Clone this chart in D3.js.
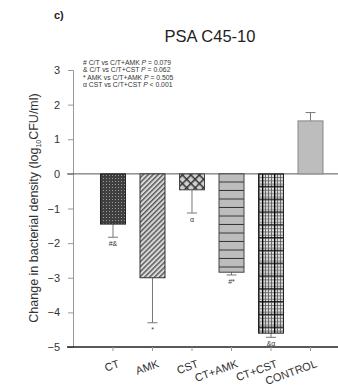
<!DOCTYPE html>
<html>
<head>
<meta charset="utf-8">
<script src="https://cdn.jsdelivr.net/npm/d3@7"></script>
<style>
  body { margin: 0; background: #fff; }
  svg text { font-family: "Liberation Sans", Arial, sans-serif; }
</style>
</head>
<body>
<div class="chart"></div>
<script>
// data
var groups = ["CT", "AMK", "CST", "CT+AMK", "CT+CST", "CONTROL"];
var means = [-1.45, -3.0, -0.46, -2.84, -4.6, 1.53];
var errs = [-1.83, -4.3, -1.13, -2.92, -4.72, 1.77];
var marks = ["#&", "*", "\u03b1", "#*", "&\u03b1", ""];
var yTicks = [3, 2, 1, 0, -1, -2, -3, -4, -5];
var notes = [
  ["# C/T vs C/T+AMK ", "= 0.079"],
  ["& C/T vs C/T+CST ", "= 0.062"],
  ["* AMK vs C/T+AMK ", "= 0.505"],
  ["\u03b1 CST vs C/T+CST ", "< 0.001"]
];
var fills = ["url(#pCT)", "url(#pAMK)", "url(#pCST)", "url(#pCTAMK)", "url(#pCTCST)", "#bdbdbd"];
var strokes = ["#222", "#333", "#444", "#444", "#222", "#888"];

var Width = 338, Height = 391;
var svg = d3.select(".chart").append("svg")
  .attr("width", Width)
  .attr("height", Height);

// patterns for the bars
var defs = svg.append("defs");

var p1 = defs.append("pattern").attr("id", "pCT").attr("patternUnits", "userSpaceOnUse")
  .attr("width", 3).attr("height", 3);
p1.append("rect").attr("width", 3).attr("height", 3).attr("fill", "#3f3f3f");
p1.append("rect").attr("x", 1).attr("y", 1).attr("width", 1).attr("height", 1).attr("fill", "#9a9a9a");

var p2 = defs.append("pattern").attr("id", "pAMK").attr("patternUnits", "userSpaceOnUse")
  .attr("width", 3.5).attr("height", 3.5).attr("patternTransform", "rotate(45)");
p2.append("rect").attr("width", 3.5).attr("height", 3.5).attr("fill", "#d8d8d8");
p2.append("rect").attr("width", 1.4).attr("height", 3.5).attr("fill", "#555");

var p3 = defs.append("pattern").attr("id", "pCST").attr("patternUnits", "userSpaceOnUse")
  .attr("width", 6).attr("height", 6).attr("patternTransform", "rotate(45)");
p3.append("rect").attr("width", 6).attr("height", 6).attr("fill", "#cfcfcf");
p3.append("rect").attr("width", 1.5).attr("height", 6).attr("fill", "#333");
p3.append("rect").attr("width", 6).attr("height", 1.5).attr("fill", "#333");

var p4 = defs.append("pattern").attr("id", "pCTAMK").attr("patternUnits", "userSpaceOnUse")
  .attr("width", 10).attr("height", 8.5).attr("y", 174);
p4.append("rect").attr("width", 10).attr("height", 8.5).attr("fill", "#bdbdbd");
p4.append("rect").attr("y", 7.5).attr("width", 10).attr("height", 1).attr("fill", "#333");

var p5 = defs.append("pattern").attr("id", "pCTCST").attr("patternUnits", "userSpaceOnUse")
  .attr("width", 12).attr("height", 12.8).attr("x", 259).attr("y", 174);
p5.append("rect").attr("width", 12).attr("height", 12.8).attr("fill", "#dedede");
[0, 3, 6, 9].forEach(function(v) {
  p5.append("rect").attr("x", v).attr("width", 0.8).attr("height", 12.8).attr("fill", "#555");
});
[0, 3.2, 6.4, 9.6].forEach(function(v) {
  p5.append("rect").attr("y", v).attr("width", 12).attr("height", 0.8).attr("fill", "#555");
});
p5.append("rect").attr("x", 3).attr("width", 1.3).attr("height", 12.8).attr("fill", "#000");
p5.append("rect").attr("y", 12).attr("width", 12).attr("height", 1.3).attr("fill", "#000");

// scales
var y = d3.scaleLinear().domain([-5, 3]).range([347, 70]);
var x = d3.scaleBand().domain(groups)
  .range([73, 350.5])
  .paddingInner(0.367)
  .paddingOuter(0.696);

// y axis
var yAxis = svg.append("g")
  .attr("transform", "translate(73,0)")
  .call(d3.axisLeft(y).tickValues(yTicks).tickSize(5).tickPadding(8));
yAxis.select(".domain").attr("stroke", "#999");
yAxis.selectAll(".tick line").attr("stroke", "#999");
yAxis.selectAll(".tick text").attr("fill", "#333").style("font-size", "11px");

// zero line and bottom line
svg.append("line")
  .attr("x1", 67).attr("x2", Width)
  .attr("y1", y(0)).attr("y2", y(0))
  .attr("stroke", "#555").attr("stroke-width", 1);
svg.append("line")
  .attr("x1", 67).attr("x2", Width)
  .attr("y1", y(-5)).attr("y2", y(-5))
  .attr("stroke", "#222").attr("stroke-width", 1.5);

// x ticks and labels
var xAxis = svg.append("g")
  .attr("transform", "translate(0," + y(-5) + ")")
  .call(d3.axisBottom(x).tickSize(4).tickPadding(7));
xAxis.select(".domain").remove();
xAxis.selectAll(".tick line").attr("stroke", "#999");
xAxis.selectAll(".tick text")
  .attr("fill", "#333")
  .style("font-size", "11px")
  .attr("text-anchor", "end")
  .attr("dy", "0.9em")
  .attr("transform", "rotate(-20)");

// error bars
var bw = x.bandwidth();
groups.forEach(function(g, i) {
  var cx = x(g) + bw / 2;
  svg.append("line")
    .attr("x1", cx).attr("x2", cx)
    .attr("y1", y(means[i])).attr("y2", y(errs[i]))
    .attr("stroke", "#777").attr("stroke-width", 1);
  svg.append("line")
    .attr("x1", cx - 5).attr("x2", cx + 5)
    .attr("y1", y(errs[i])).attr("y2", y(errs[i]))
    .attr("stroke", "#777").attr("stroke-width", 1);
});

// bars
svg.selectAll(".bar")
  .data(groups)
  .enter().append("rect")
  .attr("class", "bar")
  .attr("x", function(d) { return x(d); })
  .attr("width", bw)
  .attr("y", function(d, i) { return y(Math.max(0, means[i])); })
  .attr("height", function(d, i) { return Math.abs(y(means[i]) - y(0)); })
  .attr("fill", function(d, i) { return fills[i]; })
  .attr("stroke", function(d, i) { return strokes[i]; })
  .attr("stroke-width", 1);

// significance marks below the error bars
svg.selectAll(".mark")
  .data(groups)
  .enter().append("text")
  .attr("class", "mark")
  .attr("x", function(d) { return x(d) + bw / 2; })
  .attr("y", function(d, i) { return y(errs[i]) + 9; })
  .attr("text-anchor", "middle")
  .style("font-size", "7px")
  .attr("fill", "#333")
  .text(function(d, i) { return marks[i]; });

// p value notes
var nt = svg.append("g").attr("fill", "#333").style("font-size", "6.8px");
notes.forEach(function(n, i) {
  var t = nt.append("text").attr("x", 83).attr("y", 64.5 + i * 7.6);
  t.append("tspan").text(n[0]);
  t.append("tspan").style("font-style", "italic").text("P");
  t.append("tspan").text(" " + n[1]);
});

// title
svg.append("text")
  .attr("x", 210).attr("y", 42)
  .attr("text-anchor", "middle")
  .style("font-size", "16.5px")
  .attr("fill", "#222")
  .text("PSA C45-10");

svg.append("text")
  .attr("x", 54).attr("y", 19)
  .style("font-size", "11px")
  .style("font-weight", "bold")
  .attr("fill", "#222")
  .text("c)");

// y label
var yl = svg.append("text")
  .attr("transform", "translate(38," + 208 + ") rotate(-90)")
  .attr("text-anchor", "middle")
  .style("font-size", "12.5px")
  .attr("fill", "#333");
yl.append("tspan").text("Change in bacterial density (log");
yl.append("tspan").attr("dy", 3).style("font-size", "7px").text("10");
yl.append("tspan").attr("dy", -3).text("CFU/ml)");
</script>
</body>
</html>
